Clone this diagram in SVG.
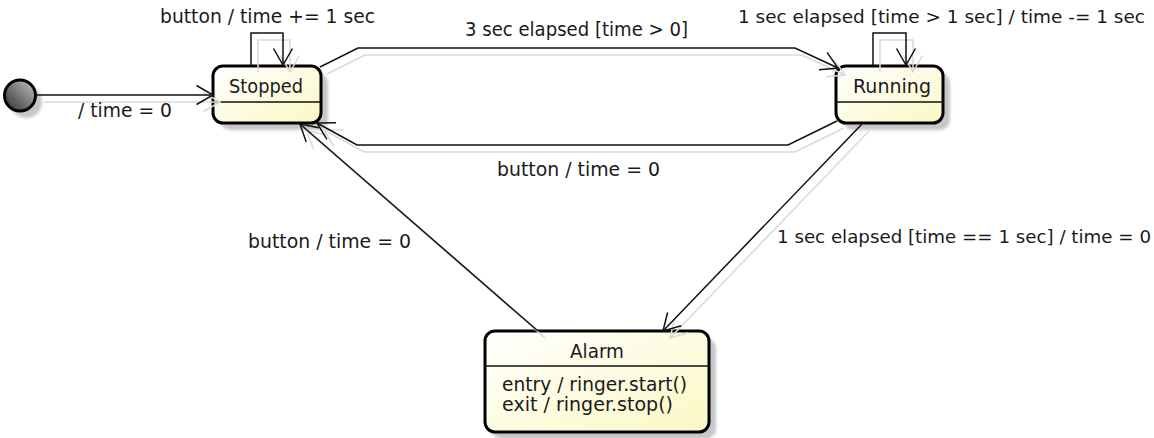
<svg xmlns="http://www.w3.org/2000/svg" width="1154" height="438" viewBox="0 0 1154 438">
<defs>
<linearGradient id="boxFill" x1="0" y1="0" x2="1" y2="1">
<stop offset="0" stop-color="#ffffff"/>
<stop offset="1" stop-color="#fbf8c4"/>
</linearGradient>
<linearGradient id="initFill" x1="1" y1="0" x2="0" y2="1">
<stop offset="0" stop-color="#c4c4c4"/>
<stop offset="1" stop-color="#2e2e2e"/>
</linearGradient>
<filter id="blur" x="-20%" y="-20%" width="140%" height="140%">
<feGaussianBlur stdDeviation="1.5"/>
</filter>
<marker id="arrow" viewBox="-18 -11 20 22" markerWidth="20" markerHeight="22" refX="0" refY="0" orient="auto" markerUnits="userSpaceOnUse">
<path d="M-16.5,-9.5 L0,0 L-16.5,9.5" fill="none" stroke="#111" stroke-width="1.5"/>
</marker>
<marker id="arrowShadow" viewBox="-18 -11 20 22" markerWidth="20" markerHeight="22" refX="0" refY="0" orient="auto" markerUnits="userSpaceOnUse">
<path d="M-16.5,-9.5 L0,0 L-16.5,9.5" fill="none" stroke="#d9d9d9" stroke-width="1.5"/>
</marker>
</defs>
<style>
.shadow { fill: #c6c6c6; filter: url(#blur); }
.box { fill: url(#boxFill); stroke: #000; stroke-width: 3; }
.div { stroke: #111; stroke-width: 1.5; }
.txt { font-family: "DejaVu Sans", "Liberation Sans", sans-serif; font-size: 19px; fill: #1a1a1a; }
.long { font-size: 18px; }
.edge { fill: none; stroke: #111; stroke-width: 1.5; marker-end: url(#arrow); }
.edgeShadow { fill: none; stroke: #d9d9d9; stroke-width: 1.5; marker-end: url(#arrowShadow); }
</style>
<rect width="1154" height="438" fill="#ffffff"/>

<g id="initial">
<circle cx="26" cy="102" r="16" class="shadow"/>
<circle cx="20" cy="95.5" r="15.5" fill="url(#initFill)" stroke="#000" stroke-width="3"/>
</g>

<g id="stopped">
<rect x="220" y="73" width="108" height="57" rx="10" class="shadow"/>
<rect x="213" y="66" width="108" height="57" rx="10" class="box"/>
<line x1="213" y1="102" x2="321" y2="102" class="div"/>
<text x="229" y="93" class="txt" textLength="74" lengthAdjust="spacingAndGlyphs">Stopped</text>
</g>

<g id="running">
<rect x="843" y="73" width="107" height="57" rx="10" class="shadow"/>
<rect x="836" y="66" width="107" height="57" rx="10" class="box"/>
<line x1="836" y1="102" x2="943" y2="102" class="div"/>
<text x="853" y="93" class="txt" textLength="78" lengthAdjust="spacingAndGlyphs">Running</text>
</g>

<g id="alarm">
<rect x="492" y="338" width="224" height="101" rx="10" class="shadow"/>
<rect x="485" y="331" width="224" height="101" rx="10" class="box"/>
<line x1="485" y1="366" x2="709" y2="366" class="div"/>
<text x="570" y="358" class="txt" textLength="54" lengthAdjust="spacingAndGlyphs">Alarm</text>
<text x="502" y="391" class="txt" textLength="185" lengthAdjust="spacingAndGlyphs">entry / ringer.start()</text>
<text x="502" y="411" class="txt" textLength="171" lengthAdjust="spacingAndGlyphs">exit / ringer.stop()</text>
</g>

<g id="connectors">
<g id="connector-shadows" transform="translate(7,7)">
<path d="M37,95 H213" class="edgeShadow"/>
<path d="M251,65 V33 H283 V65" class="edgeShadow"/>
<path d="M873,65 V33 H906 V65" class="edgeShadow"/>
<path d="M320,67 L358,48 H795 L838,68" class="edgeShadow"/>
<path d="M837,121 L788,145 H357 L317,123" class="edgeShadow"/>
<path d="M538,331 L300,124" class="edgeShadow"/>
<path d="M862,124 L663,331" class="edgeShadow"/>
</g>
<path id="e-init" d="M37,95 H213" class="edge"/>
<path id="e-stopped-self" d="M251,65 V33 H283 V65" class="edge"/>
<path id="e-running-self" d="M873,65 V33 H906 V65" class="edge"/>
<path id="e-stopped-running" d="M320,67 L358,48 H795 L838,68" class="edge"/>
<path id="e-running-stopped" d="M837,121 L788,145 H357 L317,123" class="edge"/>
<path id="e-alarm-stopped" d="M538,331 L300,124" class="edge"/>
<path id="e-running-alarm" d="M862,124 L663,331" class="edge"/>
<text x="78" y="117" class="txt" textLength="94" lengthAdjust="spacingAndGlyphs">/ time = 0</text>
<text x="160" y="23" class="txt" textLength="215" lengthAdjust="spacingAndGlyphs">button / time += 1 sec</text>
<text x="738" y="23" class="txt long" textLength="407" lengthAdjust="spacingAndGlyphs">1 sec elapsed [time &gt; 1 sec] / time -= 1 sec</text>
<text x="465" y="36" class="txt" textLength="223" lengthAdjust="spacingAndGlyphs">3 sec elapsed [time &gt; 0]</text>
<text x="497" y="176" class="txt" textLength="163" lengthAdjust="spacingAndGlyphs">button / time = 0</text>
<text x="248" y="248" class="txt" textLength="163" lengthAdjust="spacingAndGlyphs">button / time = 0</text>
<text x="777" y="243" class="txt long" textLength="374" lengthAdjust="spacingAndGlyphs">1 sec elapsed [time == 1 sec] / time = 0</text>
</g>
</svg>
